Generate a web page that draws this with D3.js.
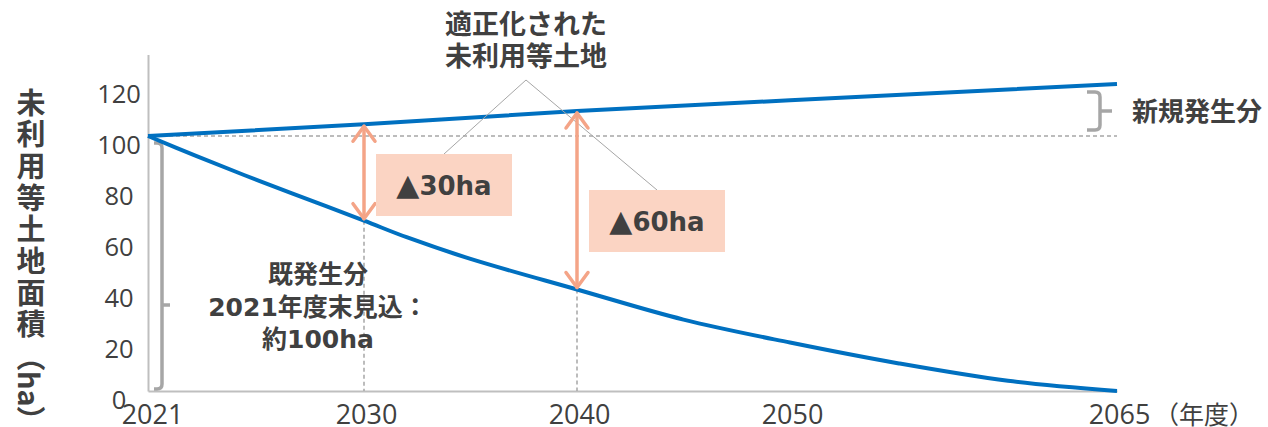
<!DOCTYPE html>
<html><head><meta charset="utf-8">
<script src="https://cdn.jsdelivr.net/npm/d3@7"></script>
<style>body{margin:0;background:#fff}svg{display:block}</style>
</head><body><svg id="c" width="1268" height="427"></svg>
<script>
// ---- data ----
const existingYears = [2021, 2023, 2025, 2027, 2030, 2032, 2035, 2040, 2045, 2050, 2055, 2060, 2065];
const existingValues = [100, 92.2, 84.7, 77.5, 66.8, 60.3, 51.8, 39.8, 28, 19, 10.8, 4, 0];
const newYears = [2021, 2030, 2040, 2050, 2065];
const newValues = [100, 104.6, 109.8, 114, 120.4];
const xTicks = [2021, 2030, 2040, 2050, 2065];
const xTickLabels = ["2021", "2030", "2040", "2050", "2065"];
const yTicks = [0, 20, 40, 60, 80, 100, 120];
const reductionYears = [2030, 2040];
const reductionMarks = ["▲", "▲"];
const reductionLabels = ["30ha", "60ha"];
const baselineValue = 100;
const yAxisTitle = "未利用等土地面積";
const yAxisUnit = "（ha）";
const xUnit = "（年度）";
const titleLines = ["適正化された", "未利用等土地"];
const existingNote = ["既発生分", "2021年度末見込：", "約100ha"];
const newNote = "新規発生分";

// ---- layout ----
const svg = d3.select("#c");
const x = d3.scaleLinear().domain([2021, 2030, 2040, 2050, 2065]).range([148, 364, 577, 790, 1117]);
const y = d3.scaleLinear().domain([0, 132]).range([391, 54.4]);
const textCol = "#404040", gray = "#a6a6a6", blue = "#0070c0", salmon = "#f4a487", boxFill = "#fbd4c3";
const annoFont = "'DejaVu Sans','Noto Sans CJK JP',sans-serif";
const cjkFont = "'Noto Sans CJK JP','DejaVu Sans',sans-serif";

// axes
const gx = svg.append("g").attr("transform", `translate(0,${y(0)})`)
  .call(d3.axisBottom(x).tickValues(xTicks).tickFormat((d, i) => xTickLabels[i]).tickSize(0).tickSizeOuter(0));
gx.select(".domain").attr("stroke", "#bfbfbf").attr("stroke-width", 2);
gx.selectAll("text").attr("font-family", "'Open Sans',sans-serif").attr("font-size", 27)
  .attr("fill", textCol).attr("y", 33).attr("dy", 0)
  .attr("dx", d => d === 2021 ? 4 : 2);
svg.append("text").text(xUnit).attr("x", x(2065) + 37).attr("y", y(0) + 33)
  .attr("font-family", cjkFont).attr("font-size", 25).attr("fill", textCol);

const gy = svg.append("g").attr("transform", `translate(${x(2021)},0)`)
  .call(d3.axisLeft(y).tickValues(yTicks).tickSize(0).tickSizeOuter(0));
gy.select(".domain").attr("stroke", "#bfbfbf").attr("stroke-width", 2);
gy.selectAll("text").attr("font-family", "'Open Sans',sans-serif").attr("font-size", 25.5)
  .attr("fill", textCol).attr("text-anchor", "middle").attr("x", -29).attr("dy", 0).attr("y", 17.5);

// y axis title (vertical writing)
const yt = svg.append("text")
  .attr("x", 31).attr("y", 88)
  .style("writing-mode", "vertical-rl").style("text-orientation", "mixed")
  .attr("font-family", cjkFont).attr("font-weight", "bold").attr("font-size", 29).attr("fill", textCol);
yt.append("tspan").text(yAxisTitle).attr("letter-spacing", 2.7);
yt.append("tspan").text(yAxisUnit).attr("letter-spacing", 0);

// dashed baseline
svg.append("line").attr("x1", x(2021)).attr("x2", x(2065)).attr("y1", y(baselineValue)).attr("y2", y(baselineValue))
  .attr("stroke", gray).attr("stroke-width", 1.5).attr("stroke-dasharray", "4,3");

const valAt = (yrs, vals, yr) => vals[yrs.indexOf(yr)];
// vertical dashed drops
svg.append("g").selectAll("line").data(reductionYears).join("line")
  .attr("x1", d => x(d)).attr("x2", d => x(d))
  .attr("y1", d => y(valAt(existingYears, existingValues, d))).attr("y2", y(0))
  .attr("stroke", gray).attr("stroke-width", 1.5).attr("stroke-dasharray", "4,3");

// braces
function bracePath(bx, yTop, yBot, yNub, hook, nub) {
  const r = 5;
  return `M${bx - hook},${yTop} L${bx - r},${yTop} Q${bx},${yTop} ${bx},${yTop + r} L${bx},${yBot - r} Q${bx},${yBot} ${bx - r},${yBot} L${bx - hook},${yBot} M${bx},${yNub} L${bx + nub},${yNub}`;
}
svg.append("path").attr("d", bracePath(x(2021) + 14, y(97.3), y(0.8), y(33.7), 8, 8))
  .attr("fill", "none").attr("stroke", gray).attr("stroke-width", 3.5);
svg.append("path").attr("d", bracePath(x(2065) - 17, y(117.3), y(102.4), y(109.8), 13, 12))
  .attr("fill", "none").attr("stroke", gray).attr("stroke-width", 3.5);

// lines
const line = d3.line().x(d => x(d[0])).y(d => y(d[1])).curve(d3.curveCatmullRom.alpha(0.5));
svg.append("path").attr("d", line(existingYears.map((d, i) => [d, existingValues[i]])))
  .attr("fill", "none").attr("stroke", blue).attr("stroke-width", 4);
svg.append("path").attr("d", d3.line().x(d => x(d[0])).y(d => y(d[1]))(newYears.map((d, i) => [d, newValues[i]])))
  .attr("fill", "none").attr("stroke", blue).attr("stroke-width", 4);

// leader lines
const titleX = 526, apexY = 80;
const boxW = 136, boxH = 62;
const boxTops = [154, 190];
svg.append("g").selectAll("line").data(reductionYears).join("line")
  .attr("x1", titleX).attr("y1", apexY)
  .attr("x2", d => x(d) + 12 + boxW / 2).attr("y2", (d, i) => boxTops[i])
  .attr("stroke", gray).attr("stroke-width", 1);

// arrows
const arrows = svg.append("g").attr("fill", "none").attr("stroke", salmon).attr("stroke-width", 3.5)
  .attr("stroke-linecap", "round").attr("stroke-linejoin", "round");
reductionYears.forEach(yr => {
  const ax = x(yr), top = y(valAt(newYears, newValues, yr)) + 2, bot = y(valAt(existingYears, existingValues, yr)) - 2;
  arrows.append("line").attr("x1", ax).attr("x2", ax).attr("y1", top).attr("y2", bot);
  arrows.append("polyline").attr("points", `${ax - 11},${top + 15} ${ax},${top} ${ax + 11},${top + 15}`);
  arrows.append("polyline").attr("points", `${ax - 11},${bot - 15} ${ax},${bot} ${ax + 11},${bot - 15}`);
});

// boxes
reductionYears.forEach((yr, i) => {
  const bx = x(yr) + 12;
  svg.append("rect").attr("x", bx).attr("y", boxTops[i]).attr("width", boxW).attr("height", boxH).attr("fill", boxFill);
  const t = svg.append("text").attr("x", bx + boxW / 2).attr("y", boxTops[i] + boxH / 2 + 9.5)
    .attr("text-anchor", "middle").attr("font-family", annoFont).attr("font-weight", "bold")
    .attr("font-size", 26).attr("fill", textCol);
  t.append("tspan").text(reductionMarks[i]).attr("font-size", 30);
  t.append("tspan").text(reductionLabels[i]);
});

// title
svg.append("g").selectAll("text").data(titleLines).join("text").text(d => d)
  .attr("x", titleX).attr("y", (d, i) => 34 + i * 32).attr("text-anchor", "middle")
  .attr("font-family", cjkFont).attr("font-weight", "bold").attr("font-size", 27).attr("fill", textCol);

// notes
svg.append("g").selectAll("text").data(existingNote).join("text").text(d => d)
  .attr("x", 318).attr("y", (d, i) => 283 + i * 32.5).attr("text-anchor", "middle")
  .attr("font-family", annoFont).attr("font-weight", "bold").attr("font-size", 25).attr("fill", textCol);
svg.append("text").text(newNote).attr("x", x(2065) + 15).attr("y", 121)
  .attr("font-family", cjkFont).attr("font-weight", "bold").attr("font-size", 26).attr("fill", textCol);
</script></body></html>
